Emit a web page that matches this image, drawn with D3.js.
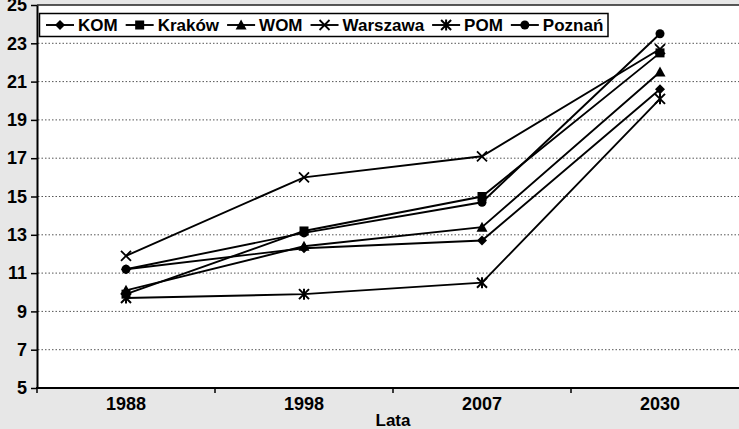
<!DOCTYPE html>
<html>
<head>
<meta charset="utf-8">
<script src="https://cdn.jsdelivr.net/npm/d3@7"></script>
<style>
  body { margin: 0; background: #e7e7e7; }
  svg { display: block; }
</style>
</head>
<body>
<svg id="chart" width="739" height="429"></svg>
<script>
let years = ["1988", "1998", "2007", "2030"];
let yTicks = [5, 7, 9, 11, 13, 15, 17, 19, 21, 23, 25];

let kom = [11.2, 12.3, 12.7, 20.6];
let krakow = [9.9, 13.2, 15.0, 22.5];
let wom = [10.1, 12.4, 13.4, 21.5];
let warszawa = [11.9, 16.0, 17.1, 22.7];
let pom = [9.7, 9.9, 10.5, 20.1];
let poznan = [11.2, 13.1, 14.7, 23.5];

let series = [
  { name: "KOM", values: kom, marker: "diamond" },
  { name: "Kraków", values: krakow, marker: "square" },
  { name: "WOM", values: wom, marker: "triangle" },
  { name: "Warszawa", values: warszawa, marker: "cross" },
  { name: "POM", values: pom, marker: "star" },
  { name: "Poznań", values: poznan, marker: "circle" }
];

let svg = d3.select("#chart");
let font = "'Liberation Sans', Arial, sans-serif";

// bands: 37 .. 749 (right edge of plot is cut by the picture)
let xScale = d3.scaleBand()
  .domain(years)
  .range([37, 749]);

let yScale = d3.scaleLinear()
  .domain([5, 25])
  .range([388, 5]);

let cx = d => xScale(d) + xScale.bandwidth() / 2;

// white plot area
svg.append("rect")
  .attr("x", 37)
  .attr("y", yScale(25))
  .attr("width", 739 - 37)
  .attr("height", yScale(5) - yScale(25))
  .attr("fill", "#fff");

// dotted grid
svg.selectAll(".grid")
  .data(yTicks.filter(t => t > 5 && t < 25))
  .join("line")
  .attr("class", "grid")
  .attr("x1", 38)
  .attr("x2", 739)
  .attr("y1", d => yScale(d))
  .attr("y2", d => yScale(d))
  .attr("stroke", "#555")
  .attr("stroke-width", 1)
  .attr("stroke-dasharray", "1.5,2");

// top border
svg.append("line")
  .attr("x1", 37).attr("x2", 739)
  .attr("y1", yScale(25)).attr("y2", yScale(25))
  .attr("stroke", "#222")
  .attr("stroke-width", 1.5);

// y axis
let yAxis = svg.append("g")
  .attr("transform", "translate(37,0)")
  .call(d3.axisLeft(yScale)
    .tickValues(yTicks)
    .tickFormat(d3.format("d"))
    .tickSize(6)
    .tickPadding(4)
    .tickSizeOuter(0));
yAxis.select(".domain").attr("stroke", "#000").attr("stroke-width", 2);
yAxis.selectAll(".tick line").attr("stroke", "#000").attr("stroke-width", 1.5);
yAxis.selectAll("text")
  .style("font-family", font)
  .style("font-weight", "bold")
  .style("font-size", "18px")
  .attr("fill", "#000");

// x axis: labels at band centres, ticks at band edges
let xAxis = svg.append("g")
  .attr("transform", "translate(0,388)")
  .call(d3.axisBottom(xScale).tickSize(0).tickPadding(9).tickSizeOuter(0));
xAxis.select(".domain").remove();
xAxis.selectAll("text")
  .style("font-family", font)
  .style("font-weight", "bold")
  .style("font-size", "18px")
  .attr("fill", "#000");

svg.append("line")
  .attr("x1", 36).attr("x2", 739)
  .attr("y1", 388).attr("y2", 388)
  .attr("stroke", "#000")
  .attr("stroke-width", 2);

svg.selectAll(".xtick")
  .data(years)
  .join("line")
  .attr("class", "xtick")
  .attr("x1", d => xScale(d))
  .attr("x2", d => xScale(d))
  .attr("y1", 388)
  .attr("y2", 393)
  .attr("stroke", "#000")
  .attr("stroke-width", 1.5);

svg.append("text")
  .attr("x", (37 + 749) / 2)
  .attr("y", 426)
  .attr("text-anchor", "middle")
  .style("font-family", font)
  .style("font-weight", "bold")
  .style("font-size", "17px")
  .text("Lata");

// markers
function drawMarker(g, type, x, y) {
  if (type === "diamond") {
    g.append("path").attr("d", `M${x},${y-5}L${x+5},${y}L${x},${y+5}L${x-5},${y}Z`).attr("fill", "#000");
  } else if (type === "square") {
    g.append("rect").attr("x", x - 4.5).attr("y", y - 4.5).attr("width", 9).attr("height", 9).attr("fill", "#000");
  } else if (type === "triangle") {
    g.append("path").attr("d", `M${x},${y-5.5}L${x+5.5},${y+4.5}L${x-5.5},${y+4.5}Z`).attr("fill", "#000");
  } else if (type === "cross") {
    g.append("path").attr("d", `M${x-5},${y-5}L${x+5},${y+5}M${x+5},${y-5}L${x-5},${y+5}`)
      .attr("stroke", "#000").attr("stroke-width", 1.8).attr("fill", "none");
  } else if (type === "star") {
    g.append("path").attr("d", `M${x-5},${y-5}L${x+5},${y+5}M${x+5},${y-5}L${x-5},${y+5}M${x},${y-5.5}L${x},${y+5.5}`)
      .attr("stroke", "#000").attr("stroke-width", 2).attr("fill", "none");
  } else {
    g.append("circle").attr("cx", x).attr("cy", y).attr("r", 4.5).attr("fill", "#000");
  }
}

let line = d3.line()
  .x((d, i) => cx(years[i]))
  .y(d => yScale(d));

let plot = svg.append("g");
series.forEach(s => {
  plot.append("path")
    .attr("d", line(s.values))
    .attr("fill", "none")
    .attr("stroke", "#000")
    .attr("stroke-width", 1.9);
});
series.forEach(s => {
  let g = plot.append("g");
  s.values.forEach((v, i) => drawMarker(g, s.marker, cx(years[i]), yScale(v)));
});

// legend
let legend = svg.append("g");
let box = legend.append("rect")
  .attr("x", 39.5).attr("y", 13.5)
  .attr("height", 23)
  .attr("fill", "#fff")
  .attr("stroke", "#000")
  .attr("stroke-width", 1.5);

let lx = 46;
series.forEach(s => {
  legend.append("line")
    .attr("x1", lx).attr("x2", lx + 28)
    .attr("y1", 25).attr("y2", 25)
    .attr("stroke", "#000").attr("stroke-width", 1.9);
  drawMarker(legend, s.marker, lx + 14, 25);
  let t = legend.append("text")
    .attr("x", lx + 32)
    .attr("y", 31)
    .style("font-family", font)
    .style("font-weight", "bold")
    .style("font-size", "17px")
    .text(s.name);
  lx += 32 + t.node().getComputedTextLength() + 8;
});
box.attr("width", 608 - 39.5);
</script>
</body>
</html>
